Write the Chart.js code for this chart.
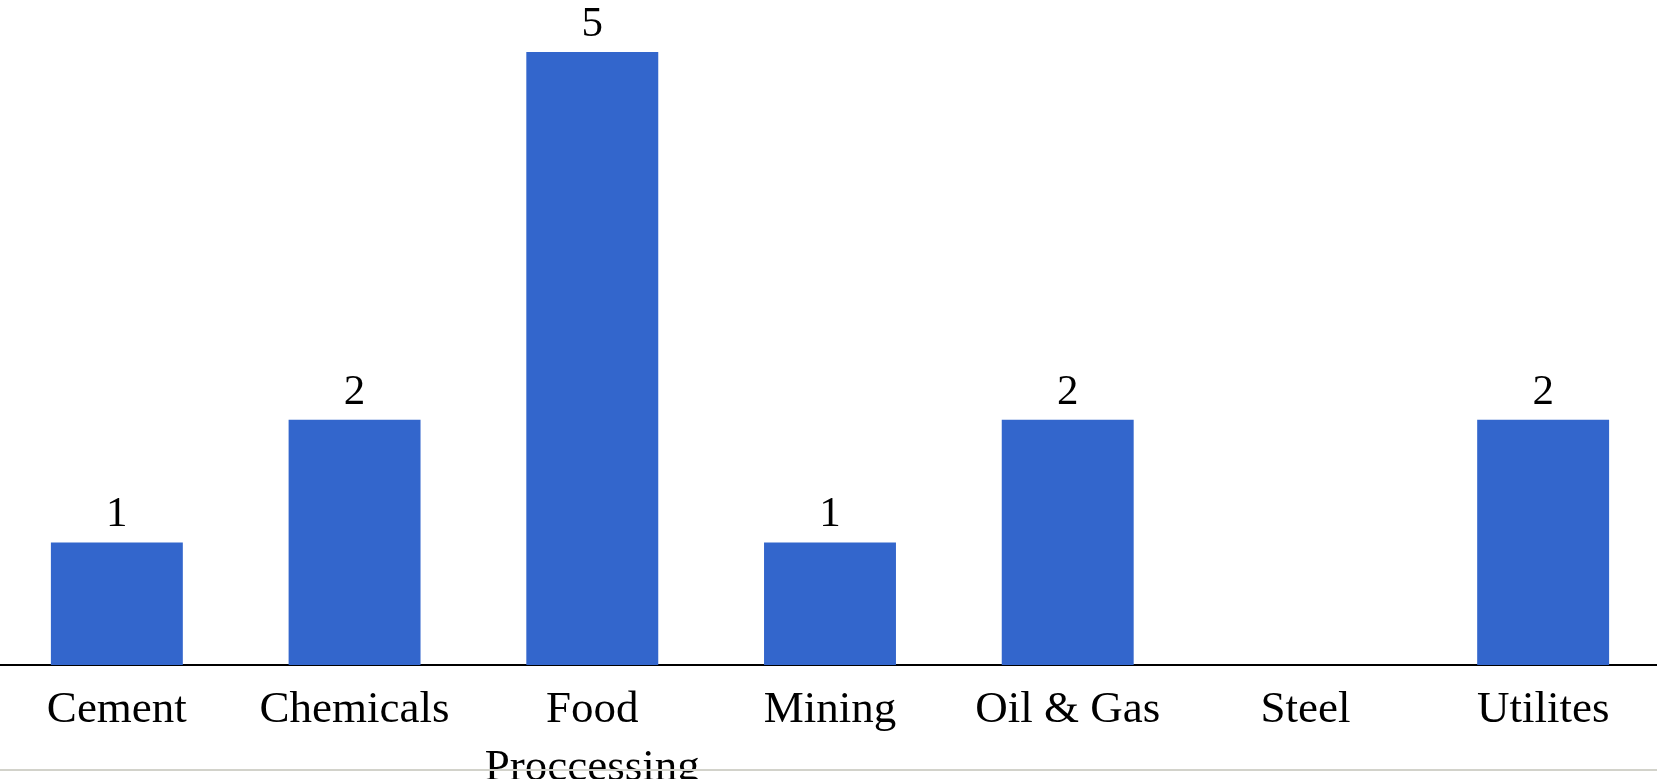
<!DOCTYPE html>
<html>
<head>
<meta charset="utf-8">
<title>Projects by Industry</title>
<script src="https://cdn.jsdelivr.net/npm/chart.js@4/dist/chart.umd.min.js"></script>
<style>
  html, body { margin: 0; padding: 0; background: #ffffff; overflow: hidden; }
  #wrap { position: relative; width: 1657px; height: 779px; overflow: hidden; }
  #chart { position: absolute; left: -2px; top: 0; }
</style>
</head>
<body>
<div id="wrap"><canvas id="chart" width="1664" height="779"></canvas></div>
<script>
// Industry categories (multi-line labels as arrays)
const categories = ['Cement', 'Chemicals', ['Food', 'Proccessing'], 'Mining', 'Oil & Gas', 'Steel', 'Utilites'];
// Count per industry
const counts = [1, 2, 5, 1, 2, 0, 2];

const BAR_BLUE = '#3366CC';
const SERIF = '"Liberation Serif", "Times New Roman", Times, serif';

// Value labels above each non-zero bar
const valueLabels = {
  id: 'valueLabels',
  afterDatasetsDraw(chart) {
    const ctx = chart.ctx;
    const meta = chart.getDatasetMeta(0);
    ctx.save();
    ctx.fillStyle = '#000000';
    ctx.font = '43px ' + SERIF;
    ctx.textAlign = 'center';
    ctx.textBaseline = 'alphabetic';
    meta.data.forEach((bar, i) => {
      const v = chart.data.datasets[0].data[i];
      if (!v) return;
      ctx.fillText(String(v), bar.x, bar.y - 16);
    });
    ctx.restore();
  }
};

// Thin grey rule near the bottom edge
const bottomRule = {
  id: 'bottomRule',
  afterDraw(chart) {
    const ctx = chart.ctx;
    ctx.save();
    ctx.fillStyle = '#d2d2ca';
    ctx.fillRect(0, 769, chart.width, 2);
    ctx.restore();
  }
};

new Chart(document.getElementById('chart'), {
  type: 'bar',
  data: {
    labels: categories,
    datasets: [{
      data: counts,
      backgroundColor: BAR_BLUE,
      borderWidth: 0,
      barPercentage: 0.555,
      categoryPercentage: 1.0
    }]
  },
  options: {
    responsive: false,
    animation: false,
    layout: { padding: { top: 52, left: 0, right: 0, bottom: 0 } },
    plugins: {
      legend: { display: false },
      tooltip: { enabled: false }
    },
    scales: {
      x: {
        grid: { display: false, drawTicks: false },
        border: { display: true, color: '#000000', width: 2 },
        ticks: {
          color: '#000000',
          padding: 17,
          maxRotation: 0,
          autoSkip: false,
          font: { family: SERIF, size: 45, lineHeight: 1.27 }
        },
        afterFit(scale) { scale.height = 114; }
      },
      y: {
        display: false,
        min: 0,
        max: 5,
        grid: { display: false }
      }
    }
  },
  plugins: [valueLabels, bottomRule]
});
</script>
</body>
</html>
